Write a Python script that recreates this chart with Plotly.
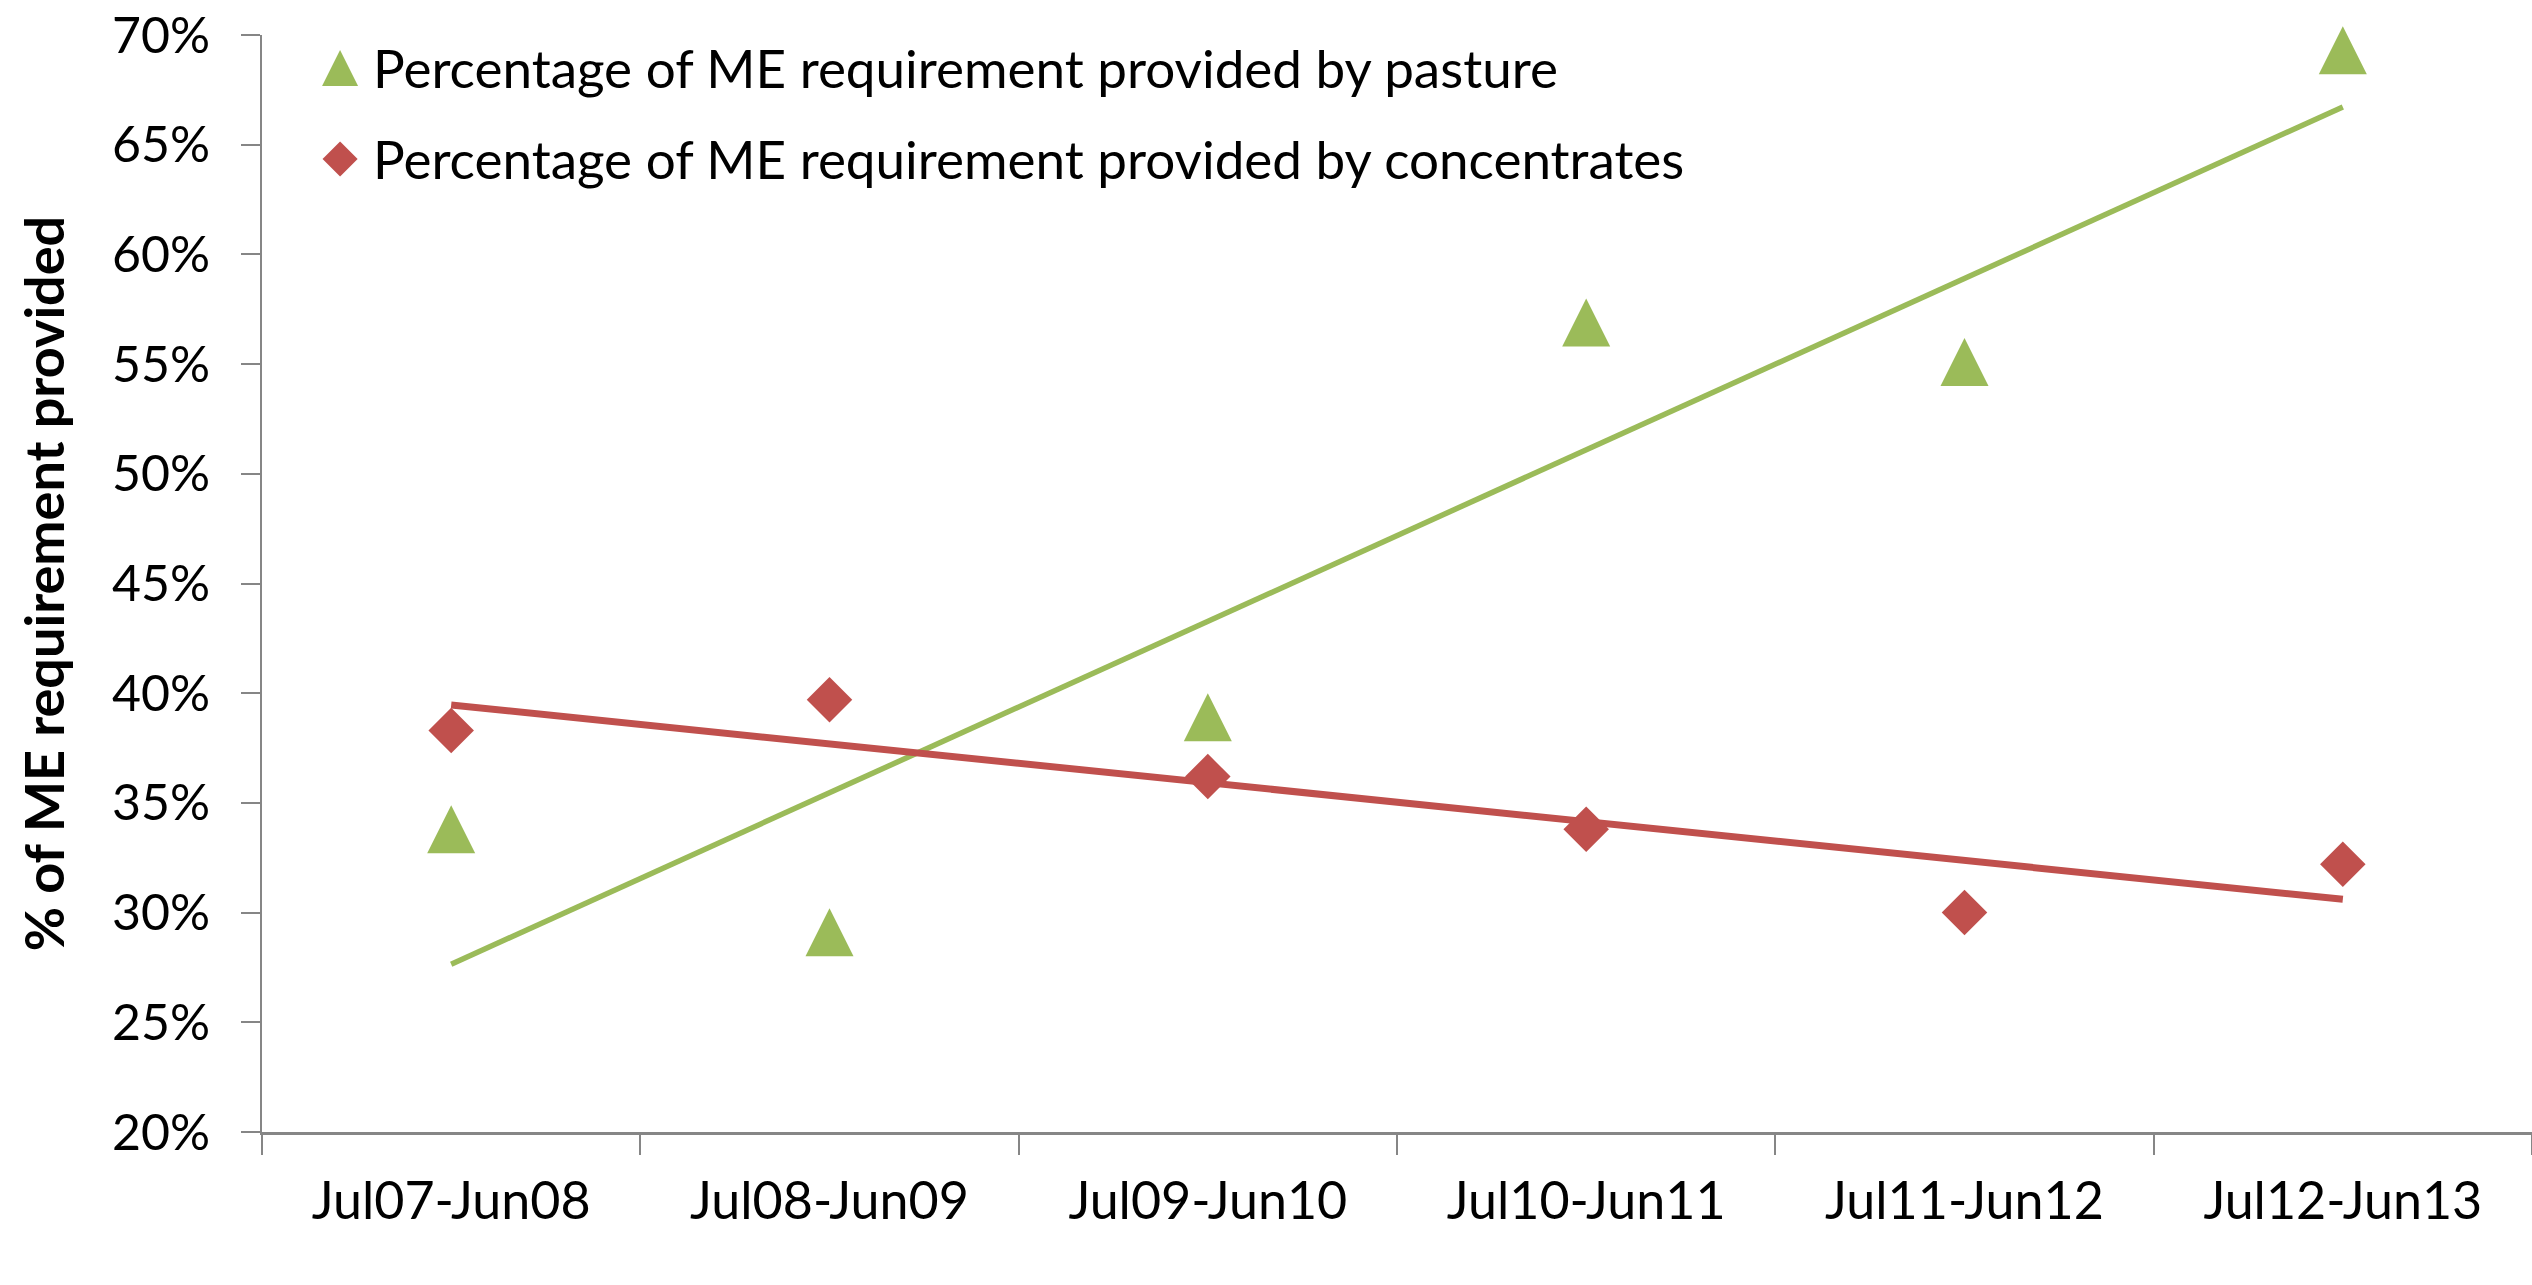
import numpy as np
import plotly.graph_objects as go

# Seasons (Jul-Jun years)
seasons = ['Jul07-Jun08', 'Jul08-Jun09', 'Jul09-Jun10',
           'Jul10-Jun11', 'Jul11-Jun12', 'Jul12-Jun13']

# Share of ME requirement
pasture_pct = [0.338, 0.291, 0.389, 0.569, 0.551, 0.693]
concentrate_pct = [0.383, 0.397, 0.362, 0.338, 0.300, 0.322]

pasture_label = 'Percentage of ME requirement provided by pasture'
concentrate_label = 'Percentage of ME requirement provided by concentrates'

GREEN = '#9BBB59'
RED = '#C0504D'
AXIS_GREY = '#868686'
FONT = 'Lato, Calibri, Arial, sans-serif'


def linear_trend(values):
    # Excel style linear trendline over the category index
    idx = np.arange(1, len(values) + 1)
    slope, intercept = np.polyfit(idx, values, 1)
    ends = np.array([idx[0], idx[-1]])
    return [seasons[0], seasons[-1]], list(slope * ends + intercept)


def triangle(size):
    # Excel-like upright triangle (as tall as it is wide), centred on the point:
    # an arrow flipped round and pushed back by half its height
    return dict(symbol='arrow-down', angle=180, size=size, standoff=size / 2,
                color=GREEN, line=dict(width=0))


def diamond(size):
    return dict(symbol='diamond', size=size, color=RED, line=dict(width=0))


fig = go.Figure()

# trendlines first so the markers sit on top
tx, ty = linear_trend(pasture_pct)
fig.add_trace(go.Scatter(x=tx, y=ty, mode='lines',
                         line=dict(color=GREEN, width=5.5),
                         showlegend=False, hoverinfo='skip'))
tx, ty = linear_trend(concentrate_pct)
fig.add_trace(go.Scatter(x=tx, y=ty, mode='lines',
                         line=dict(color=RED, width=7),
                         showlegend=False, hoverinfo='skip'))

fig.add_trace(go.Scatter(x=seasons, y=pasture_pct, mode='markers',
                         name=pasture_label, cliponaxis=False,
                         marker=triangle(48), showlegend=False))
fig.add_trace(go.Scatter(x=seasons, y=concentrate_pct, mode='markers',
                         name=concentrate_label, cliponaxis=False,
                         marker=diamond(35), showlegend=False))

# hand-made legend on a hidden 0..1 overlay so the symbols can be full size
LEG_X = 0.0344
LEG_TEXT_X = 0.048
LEG_Y = [0.970, 0.887]
fig.add_trace(go.Scatter(x=[LEG_X], y=[LEG_Y[0]], xaxis='x2', yaxis='y2',
                         mode='markers', cliponaxis=False, showlegend=False,
                         marker=triangle(36), hoverinfo='skip'))
fig.add_trace(go.Scatter(x=[LEG_X], y=[LEG_Y[1]], xaxis='x2', yaxis='y2',
                         mode='markers', cliponaxis=False, showlegend=False,
                         marker=diamond(27), hoverinfo='skip'))
for label, y in zip([pasture_label, concentrate_label], LEG_Y):
    fig.add_annotation(text=label, xref='paper', yref='paper',
                       x=LEG_TEXT_X, y=y, xanchor='left', yanchor='middle',
                       showarrow=False, font=dict(size=53, color='black', family=FONT))

fig.update_layout(
    width=2532, height=1285,
    margin=dict(l=262, r=0, t=35, b=153),
    plot_bgcolor='white', paper_bgcolor='white',
    font=dict(family=FONT, size=50, color='black'),
    xaxis=dict(type='category', categoryorder='array', categoryarray=seasons,
               range=[-0.5, 5.5], showgrid=False, zeroline=False,
               showline=True, linecolor=AXIS_GREY, linewidth=2.5,
               ticks='outside', tickson='boundaries', ticklen=20,
               tickcolor=AXIS_GREY, tickwidth=1.5, ticklabelstandoff=22,
               tickfont=dict(size=52), automargin=False),
    yaxis=dict(range=[0.2, 0.7], dtick=0.05, tickformat='.0%',
               showgrid=False, zeroline=False,
               showline=True, linecolor=AXIS_GREY, linewidth=2,
               ticks='outside', ticklen=19, tickcolor=AXIS_GREY, tickwidth=1.5,
               ticklabelstandoff=21, automargin=False,
               title=dict(text='<b>% of ME requirement provided</b>',
                          font=dict(size=54), standoff=30)),
    xaxis2=dict(overlaying='x', range=[0, 1], visible=False),
    yaxis2=dict(overlaying='y', range=[0, 1], visible=False),
)

# drop the browser's default body margin so the figure sits at the page corner
fig.write_html('out.html', config={'displayModeBar': False},
               post_script="document.body.style.margin='0';"
                           "document.body.style.overflow='hidden';")
